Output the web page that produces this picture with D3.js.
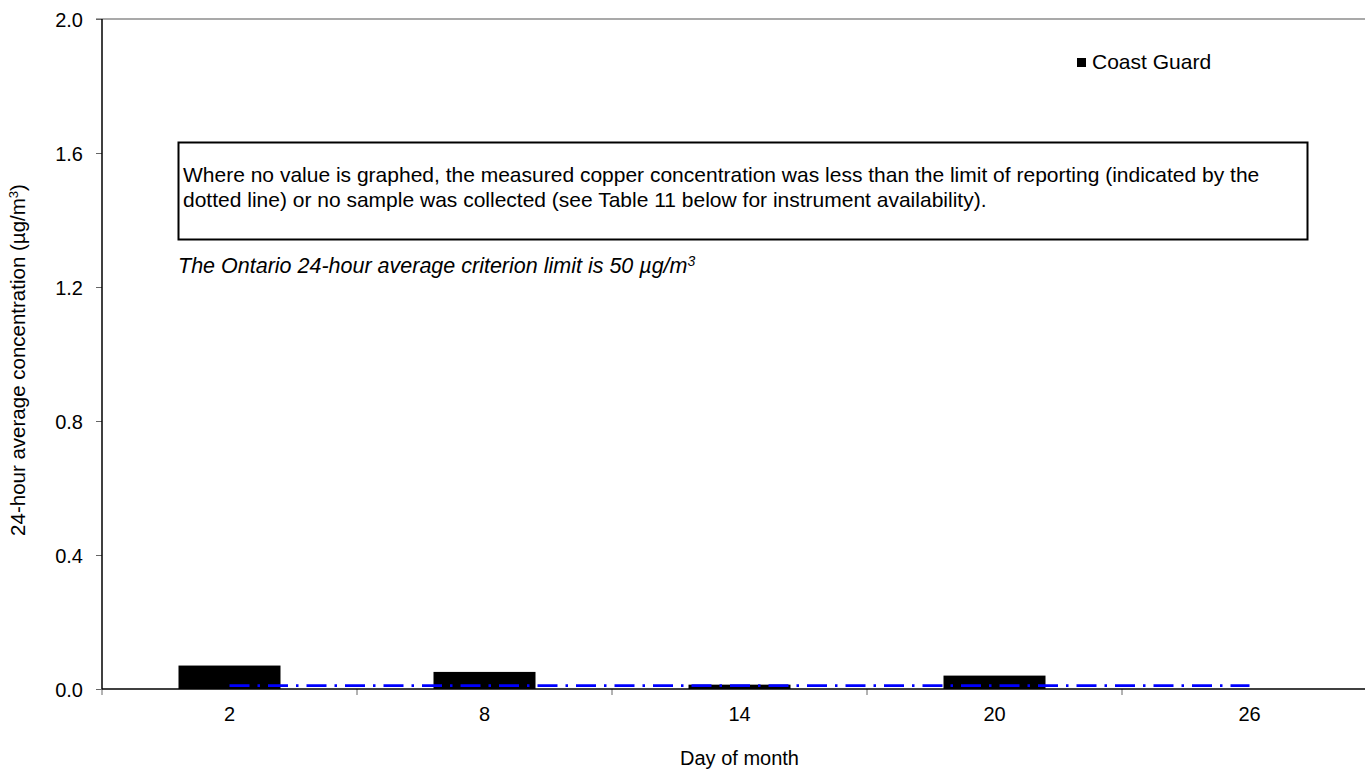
<!DOCTYPE html>
<meta charset="utf-8">
<style>
  body { margin: 0; background: #fff; }
  text { font-family: "Liberation Sans", Arial, sans-serif; fill: #000; }
</style>
<svg width="1365" height="769"></svg>
<script src="https://cdn.jsdelivr.net/npm/d3@7/dist/d3.min.js"></script>
<script>
    // sampling days shown on the category axis
    var days = ['2', '8', '14', '20', '26'];
    // copper, Coast Guard station (null = below limit / no sample)
    var coastGuard = [0.07, 0.051, 0.013, 0.04, null];
    // limit of reporting (dotted line)
    var reportLimit = [0.01, 0.01, 0.01, 0.01, 0.01];
    var yTicks = [0, 0.4, 0.8, 1.2, 1.6, 2.0];

    var svg = d3.select('svg');
    var margin = { left: 102, top: 19 };
    var bottom = 689;
    var plotRight = margin.left + 255 * days.length;

    var x = d3.scaleBand()
        .domain(days)
        .range([margin.left, plotRight])
        .paddingInner(0.6)
        .paddingOuter(0.3);
    var y = d3.scaleLinear().domain([0, 2]).range([bottom, margin.top]);

    // top border of plot area
    svg.append('line')
        .attr('x1', margin.left - 6).attr('x2', 1365)
        .attr('y1', y(2)).attr('y2', y(2))
        .attr('stroke', '#555').attr('stroke-width', 1.2);

    // y axis
    var yAxis = svg.append('g')
        .attr('transform', `translate(${margin.left},0)`)
        .call(d3.axisLeft(y).tickValues(yTicks).tickFormat(d3.format('.1f')).tickSize(6).tickPadding(13));
    yAxis.select('.domain').remove();
    yAxis.selectAll('line').attr('stroke', '#666');
    yAxis.selectAll('text').style('font-size', '20px').attr('dy', '0.35em');
    svg.append('line')
        .attr('x1', margin.left).attr('x2', margin.left)
        .attr('y1', y(2)).attr('y2', bottom)
        .attr('stroke', '#000').attr('stroke-width', 1.5);

    // bars
    svg.append('g').selectAll('rect')
        .data(days.map(function (d, i) { return { day: d, v: coastGuard[i] }; })
            .filter(function (d) { return d.v != null; }))
        .enter().append('rect')
        .attr('x', function (d) { return x(d.day); })
        .attr('width', x.bandwidth())
        .attr('y', function (d) { return y(d.v); })
        .attr('height', function (d) { return bottom - y(d.v); })
        .attr('fill', '#000');

    // x axis: labels centred on categories, ticks on category boundaries
    var xAxis = svg.append('g')
        .attr('transform', `translate(0,${bottom})`)
        .call(d3.axisBottom(x).tickSize(0).tickPadding(18));
    xAxis.select('.domain').remove();
    xAxis.selectAll('text').style('font-size', '20px');
    var half = x.step() / 2;
    var bounds = days.map(function (d) { return x(d) + x.bandwidth() / 2 - half; });
    svg.append('g').selectAll('line')
        .data(bounds)
        .enter().append('line')
        .attr('x1', function (d) { return d; }).attr('x2', function (d) { return d; })
        .attr('y1', bottom).attr('y2', bottom + 6)
        .attr('stroke', '#666');
    svg.append('line')
        .attr('x1', margin.left).attr('x2', 1365)
        .attr('y1', bottom).attr('y2', bottom)
        .attr('stroke', '#000').attr('stroke-width', 1.5);

    // limit of reporting line
    var line = d3.line()
        .x(function (d, i) { return x(days[i]) + x.bandwidth() / 2; })
        .y(function (d) { return y(d); });
    svg.append('path')
        .attr('d', line(reportLimit))
        .attr('fill', 'none')
        .attr('stroke', '#0000ff')
        .attr('stroke-width', 2.6)
        .attr('stroke-dasharray', '20,8,2.5,8');

    // axis titles (centred on the plot area)
    svg.append('text')
        .attr('x', (margin.left + plotRight) / 2).attr('y', 765)
        .attr('text-anchor', 'middle')
        .style('font-size', '20px')
        .text('Day of month');
    svg.append('text')
        .attr('transform', 'translate(25,360) rotate(-90)')
        .attr('text-anchor', 'middle')
        .style('font-size', '20.5px')
        .html('24-hour average concentration (µg/m<tspan dy="-7" font-size="13">3</tspan><tspan dy="7">)</tspan>');

    // legend
    svg.append('rect')
        .attr('x', 1077).attr('y', 58).attr('width', 9).attr('height', 9)
        .attr('fill', '#000');
    svg.append('text')
        .attr('x', 1092).attr('y', 69)
        .style('font-size', '21px')
        .text('Coast Guard');

    // note box
    svg.append('rect')
        .attr('x', 178.5).attr('y', 142.5).attr('width', 1129).attr('height', 97)
        .attr('fill', 'none').attr('stroke', '#000').attr('stroke-width', 2);
    svg.append('text')
        .attr('x', 183).attr('y', 182)
        .style('font-size', '21px')
        .text('Where no value is graphed, the measured copper concentration was less than the limit of reporting (indicated by the');
    svg.append('text')
        .attr('x', 183).attr('y', 207)
        .style('font-size', '21px')
        .text('dotted line) or no sample was collected (see Table 11 below for instrument availability).');
    svg.append('text')
        .attr('x', 178).attr('y', 273)
        .style('font-size', '21.5px')
        .style('font-style', 'italic')
        .html('The Ontario 24-hour average criterion limit is 50 µg/m<tspan dy="-7" font-size="14">3</tspan>');
</script>
